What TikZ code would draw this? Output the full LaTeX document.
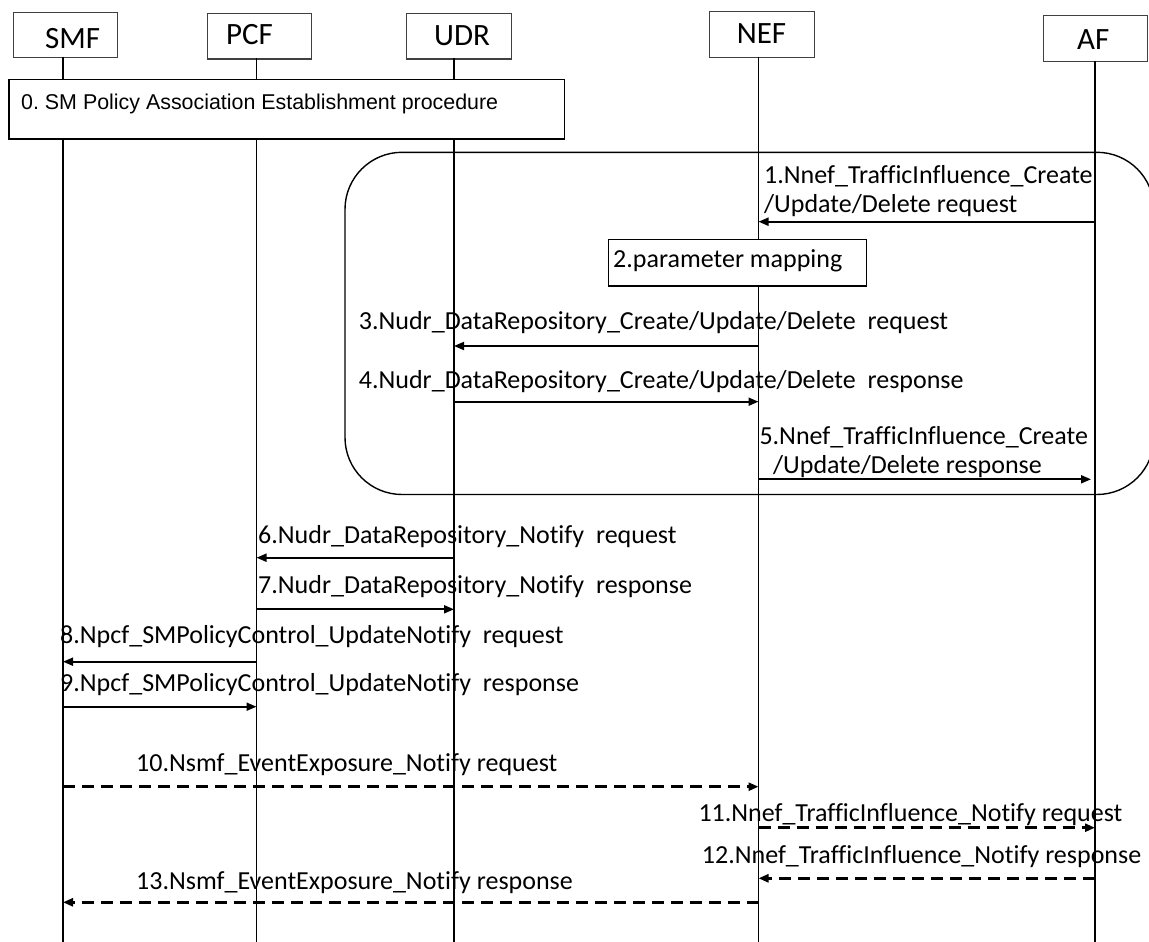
\documentclass[tikz,border=0pt]{standalone}
\usepackage{fontspec}
\setmainfont{Carlito}[Ligatures=NoCommon]
\newfontfamily\arialf{Liberation Sans}
\usetikzlibrary{arrows.meta}
\frenchspacing
\tikzset{
  hdrbox/.style={draw=black!75, line width=1.3pt, fill=white, inner sep=0pt},
  hdrtext/.style={font=\fontsize{31}{36}\selectfont, inner sep=0pt, anchor=base west},
  lifeline/.style={line width=1.4pt},
  plainbox/.style={draw=black, line width=1.4pt, fill=white, inner sep=0pt},
  lbl/.style={font=\fontsize{26}{29}\selectfont, inner sep=0pt, anchor=base west},
  msg/.style={line width=1.9pt, -{Triangle[length=10pt,width=8pt]}},
  dmsg/.style={msg, line width=2.5pt, dash pattern=on 12pt off 7pt},
  groupbox/.style={draw=black, line width=1.4pt, rounded corners=57pt}
}
\begin{document}
\begin{tikzpicture}[x=1pt,y=-1pt]
\useasboundingbox (0,0) rectangle (1149,942);
\clip (0,0) rectangle (1149,942);
\fill[white] (0,0) rectangle (1149,942);

% header boxes
\node[hdrbox, anchor=north west, minimum width=104.1pt, minimum height=45pt] (smfbox) at (12.6,11.7) {};
\node[hdrbox, anchor=north west, minimum width=104.1pt, minimum height=45.6pt] (pcfbox) at (206.7,12.7) {};
\node[hdrbox, anchor=north west, minimum width=105.3pt, minimum height=45.6pt] (udrbox) at (405.7,12.7) {};
\node[hdrbox, anchor=north west, minimum width=105.1pt, minimum height=46pt] (nefbox) at (708.5,10.7) {};
\node[hdrbox, anchor=north west, minimum width=104.4pt, minimum height=46pt] (afbox) at (1042.6,15) {};
\node[hdrtext] (smf) at (45,48.3) {SMF};
\node[hdrtext] (pcf) at (225.8,45) {PCF};
\node[hdrtext] (udr) at (434,45.7) {UDR};
\node[hdrtext] (nef) at (736.6,44) {NEF};
\node[hdrtext] (af) at (1077,49.3) {AF};

% lifeline end points
\coordinate (smfT) at (63,56.7);   \coordinate (smfB) at (63,942);
\coordinate (pcfT) at (256.5,58.3); \coordinate (pcfB) at (256.5,942);
\coordinate (udrT) at (454,58.3);  \coordinate (udrB) at (454,942);
\coordinate (nefT) at (758.5,56.7); \coordinate (nefB) at (758.5,942);
\coordinate (afT) at (1095,61);    \coordinate (afB) at (1095,942);

% group (rounded) box
\draw[groupbox] (345,152.3) rectangle (1154,494.5);

% lifelines
\draw[lifeline] (smfT) -- (smfB);
\draw[lifeline] (pcfT) -- (pcfB);
\draw[lifeline] (udrT) -- (udrB);
\draw[lifeline] (nefT) -- (nefB);
\draw[lifeline] (afT) -- (afB);

% step 0 box
\node[plainbox, anchor=north west, minimum width=555.3pt, minimum height=59.3pt] (p0) at (8.4,79) {};
\node[inner sep=0pt, anchor=base west, font=\arialf\fontsize{21.4}{25}\selectfont] (p0t) at (21,109.3) {0. SM Policy Association Establishment procedure};

% step 2 box
\node[plainbox, anchor=north west, minimum width=258.3pt, minimum height=46.6pt] (p2) at (607.7,238.7) {};
\node[lbl] (p2t) at (613,267) {2.parameter mapping};

% message rows
\coordinate (y1) at (0,221.7);
\coordinate (y3) at (0,346);
\coordinate (y4) at (0,401.7);
\coordinate (y5) at (0,479.3);
\coordinate (y6) at (0,557.7);
\coordinate (y7) at (0,609.3);
\coordinate (y8) at (0,661.7);
\coordinate (y9) at (0,706.7);
\coordinate (y10) at (0,786.7);
\coordinate (y11) at (0,827.7);
\coordinate (y12) at (0,878.3);
\coordinate (y13) at (0,902.3);

\draw[msg] (afT |- y1) -- (nefT |- y1);
\draw[msg] (nefT |- y3) -- (udrT |- y3);
\draw[msg] (udrT |- y4) -- (nefT |- y4);
\draw[msg] (nefT |- y5) -- ([xshift=-4pt]afT |- y5);
\draw[msg] (udrT |- y6) -- (pcfT |- y6);
\draw[msg] (pcfT |- y7) -- (udrT |- y7);
\draw[msg] (pcfT |- y8) -- (smfT |- y8);
\draw[msg] (smfT |- y9) -- (pcfT |- y9);
\draw[dmsg] (smfT |- y10) -- (nefT |- y10);
\draw[dmsg] (nefT |- y11) -- (afT |- y11);
\draw[dmsg] (afT |- y12) -- (nefT |- y12);
\draw[dmsg] (nefT |- y13) -- (smfT |- y13);

% labels
\node[lbl] (m1a) at (764,183) {1.Nnef\_TrafficInfluence\_Create};
\node[lbl] (m1b) at (764,212) {/Update/Delete request};
\node[lbl] (m3) at (358.7,329.7) {3.Nudr\_DataRepository\_Create/Update/Delete\ \ request};
\node[lbl] (m4) at (358.7,388) {4.Nudr\_DataRepository\_Create/Update/Delete\ \ response};
\node[lbl] (m5a) at (759.3,444.5) {5.Nnef\_TrafficInfluence\_Create};
\node[lbl] (m5b) at (773,473) {/Update/Delete response};
\node[lbl] (m6) at (258,543) {6.Nudr\_DataRepository\_Notify\ \ request};
\node[lbl] (m7) at (258,593) {7.Nudr\_DataRepository\_Notify\ \ response};
\node[lbl] (m8) at (60,643) {8.Npcf\_SMPolicyControl\_UpdateNotify\ \ request};
\node[lbl] (m9) at (60,691.3) {9.Npcf\_SMPolicyControl\_UpdateNotify\ \ response};
\node[lbl] (m10) at (136,771) {10.Nsmf\_EventExposure\_Notify request};
\node[lbl] (m11) at (698.3,821) {11.Nnef\_TrafficInfluence\_Notify request};
\node[lbl] (m12) at (701.7,863.3) {12.Nnef\_TrafficInfluence\_Notify response};
\node[lbl] (m13) at (136,889.7) {13.Nsmf\_EventExposure\_Notify response};
\end{tikzpicture}
\end{document}
